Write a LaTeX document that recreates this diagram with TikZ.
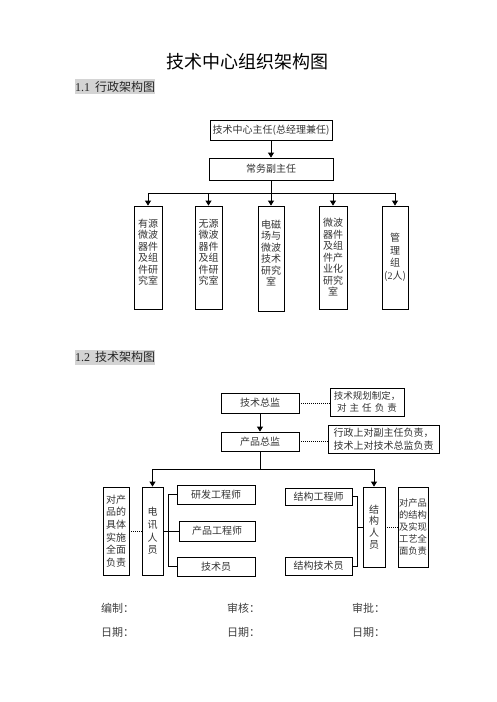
\documentclass[tikz,border=0pt]{standalone}
\usepackage{fontspec}
\setmainfont{Noto Sans CJK SC}
\newfontfamily\latinserif{Liberation Serif}
\usetikzlibrary{arrows.meta}
\tikzset{
  box/.style={draw, line width=0.8pt, inner sep=0pt, text=black!80, align=center,
              font=\fontsize{10}{11.5}\selectfont},
  arr/.style={line width=0.8pt, -{Triangle[width=6pt,length=5pt]}},
  lin/.style={line width=0.8pt},
  dotl/.style={line width=1pt, densely dotted},
  head/.style={fill=black!17, inner xsep=0pt, inner ysep=0pt, minimum height=15pt,
               anchor=west, text=black!85, font=\fontsize{12}{14}\selectfont},
  foot/.style={anchor=west, text=black!75, inner sep=0pt, font=\fontsize{11}{13}\selectfont}
}
\begin{document}
\begin{tikzpicture}[x=1pt,y=-1pt]
\useasboundingbox (0,0) rectangle (496,702);

% title and headings
\node[font=\fontsize{18}{20}\selectfont, inner sep=0pt] (title) at (247.5,62) {技术中心组织架构图};
\node[head] (h1) at (75,86.5) {{\latinserif 1.1}\hspace{5pt}行政架构图};
\node[head] (h2) at (75,357) {{\latinserif 1.2}\hspace{5pt}技术架构图};

% ---------- section 1 ----------
\node[box, minimum width=122pt, minimum height=20pt] (t1) at (271,130) {技术中心主任(总经理兼任)};
\node[box, minimum width=124pt, minimum height=22pt] (t2) at (271,169) {常务副主任};
\coordinate (bus1) at (271,193);

\node[box, minimum width=28pt, minimum height=103pt] (c1) at (148,257.5)
  {有源\\微波\\器件\\及组\\件研\\究室\\\mbox{}};
\node[box, minimum width=27pt, minimum height=103pt] (c2) at (208.5,257.5)
  {无源\\微波\\器件\\及组\\件研\\究室\\\mbox{}};
\node[box, minimum width=26pt, minimum height=105pt] (c3) at (271,258.5)
  {电磁\\场与\\微波\\技术\\研究\\室\\\mbox{}};
\node[box, minimum width=28pt, minimum height=103pt] (c4) at (333,257.5)
  {微波\\器件\\及组\\件产\\业化\\研究\\室};
\node[box, minimum width=26pt, minimum height=103pt, font=\fontsize{10}{12.5}\selectfont] (c5) at (395,257.5)
  {管\\理\\组\\({\latinserif 2}人)};

\draw[arr] (t1) -- (t2);
\draw[lin] (t2.south) -- (bus1);
\foreach \c in {c1,c2,c3,c4,c5}{
  \draw[arr] (bus1) -| (\c.north);
}

% ---------- section 2 ----------
\node[box, minimum width=78pt, minimum height=20pt] (s1) at (260,403) {技术总监};
\node[box, minimum width=74pt, minimum height=28pt, font=\fontsize{9.5}{12}\selectfont] (n1) at (367,402)
  {技术规划制定，\\\makebox[6.3em][s]{对\hfill 主\hfill 任\hfill 负\hfill 责}};
\node[box, minimum width=78pt, minimum height=19pt] (s2) at (260,441.5) {产品总监};
\node[box, minimum width=111pt, minimum height=28pt, font=\fontsize{10}{12.5}\selectfont] (n2) at (383.5,439)
  {行政上对副主任负责，\\技术上对技术总监负责};

\draw[dotl] (s1.east) -- (s1.east -| n1.west);
\draw[dotl] (s2.east) -- (s2.east -| n2.west);
\draw[arr] (s1) -- (s2);
\coordinate (bus2) at (260,469);
\draw[lin] (s2.south) -- (bus2);

% left group
\node[box, minimum width=21pt, minimum height=88pt, font=\fontsize{10}{12.7}\selectfont] (e1) at (152.5,531)
  {电\\讯\\人\\员};
\node[box, minimum width=26pt, minimum height=88pt, font=\fontsize{10}{12.6}\selectfont] (e0) at (116,531)
  {对产\\品的\\具体\\实施\\全面\\负责};
\node[box, minimum width=78pt, minimum height=19pt] (r1) at (216,494.5) {研发工程师};
\node[box, minimum width=76pt, minimum height=20pt] (r2) at (217,531) {产品工程师};
\node[box, minimum width=78pt, minimum height=19pt] (r3) at (216,566.5) {技术员};

% right group
\node[box, minimum width=22pt, minimum height=80pt, font=\fontsize{10}{11.7}\selectfont] (g1) at (374,527)
  {结\\构\\人\\员};
\node[box, minimum width=30pt, minimum height=80pt, font=\fontsize{9.3}{12.2}\selectfont] (g0) at (413,527)
  {对产品\\的结构\\及实现\\工艺全\\面负责};
\node[box, minimum width=67pt, minimum height=17pt] (k1) at (318.5,496.5) {结构工程师};
\node[box, minimum width=67pt, minimum height=18pt] (k2) at (318.5,566) {结构技术员};
\coordinate (kb) at (357,527);

\draw[arr] (bus2) -| (e1.north);
\draw[arr] (bus2) -| (g1.north);

\draw[dotl] (e0.east) -- (e1.west);
\draw[lin] (e1.east) -- (r2.west);
\draw[lin] (r1.west) -- ++(-8,0) |- (r3.west);

\draw[dotl] (g1.east) -- (g0.west);
\draw[lin] (k1.east) -- ++(5,0) |- (k2.east);
\draw[lin] (g1.west) -- (kb);

% footer
\node[foot] (f1) at (101,608) {编制：};
\node[foot] (f2) at (227,608) {审核：};
\node[foot] (f3) at (352,608) {审批：};
\node[foot] (f4) at (101,632) {日期：};
\node[foot] (f5) at (227,632) {日期：};
\node[foot] (f6) at (352,632) {日期：};
\end{tikzpicture}
\end{document}
